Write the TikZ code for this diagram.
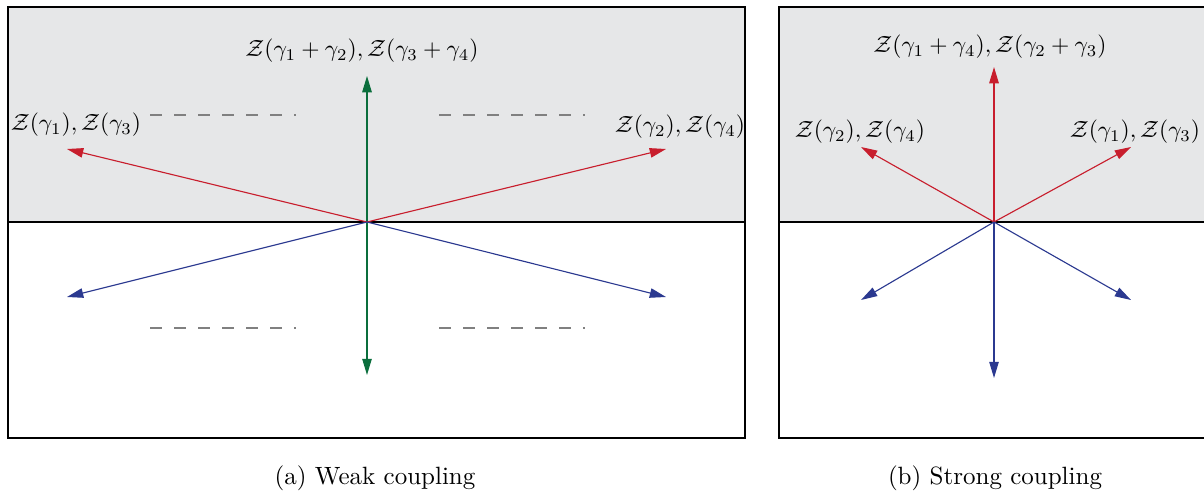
\documentclass[tikz,border=0pt]{standalone}
\usetikzlibrary{arrows.meta, positioning}
\usepackage{amsmath, amssymb}
\usepackage{xcolor}

\definecolor{bgshade}{RGB}{230,231,232}
\definecolor{redvec}{RGB}{200,30,45}
\definecolor{bluevec}{RGB}{43,57,144}
\definecolor{greenvec}{RGB}{10,110,60}

\begin{document}
\begin{tikzpicture}[
  x=0.4pt, y=-0.4pt,
  frame/.style={draw=black, line width=0.8pt},
  halfplane/.style={draw=black, line width=0.5pt},
  vec/.style={-{Triangle[length=6.5pt, width=3.8pt]}, line width=0.45pt},
  guide/.style={draw=black!50, line width=0.8pt, dash pattern=on 4.8pt off 4.8pt},
  lbl/.style={inner sep=0pt, scale=0.94},
  capt/.style={inner sep=0pt}
]
\useasboundingbox (0,0) rectangle (1204,493);
\clip (0,0) rectangle (1204,493);

% (a) weak coupling
\fill[bgshade] (8,7) rectangle (745,222);
\draw[halfplane] (8,222) -- (745,222);
\draw[frame] (8,7) rectangle (745,438);

\coordinate (oa) at (367,222);
\coordinate (aup) at (367,76);
\coordinate (adown) at (367,375);
\coordinate (aul) at (67,149);
\coordinate (aur) at (666,149);
\coordinate (adl) at (67,297);
\coordinate (adr) at (666,297);

\draw[guide] (150,115) -- (296,115);
\draw[guide] (439,115) -- (585,115);
\draw[guide] (150,328) -- (296,328);
\draw[guide] (439,328) -- (585,328);

\draw[vec, greenvec] (oa) -- (aup);
\draw[vec, greenvec] (oa) -- (adown);
\draw[vec, redvec] (oa) -- (aul);
\draw[vec, redvec] (oa) -- (aur);
\draw[vec, bluevec] (oa) -- (adl);
\draw[vec, bluevec] (oa) -- (adr);

\node (lsum) [lbl] at (362,51) {$\mathcal{Z}(\gamma_1+\gamma_2),\mathcal{Z}(\gamma_3+\gamma_4)$};
\node (lleft) [lbl] at (76,125) {$\mathcal{Z}(\gamma_1),\mathcal{Z}(\gamma_3)$};
\node (lright) [lbl] at (680,127) {$\mathcal{Z}(\gamma_2),\mathcal{Z}(\gamma_4)$};

\node (capa) [capt] at (375,478) {(a) Weak coupling};

% (b) strong coupling
\fill[bgshade] (779,7) rectangle (1215,222);
\draw[halfplane] (779,222) -- (1215,222);
\draw[frame] (779,7) rectangle (1215,438);

\coordinate (ob) at (994,222);
\coordinate (bup) at (994,67);
\coordinate (bdown) at (994,378);
\coordinate (bul) at (861,147);
\coordinate (bur) at (1131,147);
\coordinate (bdl) at (861,300);
\coordinate (bdr) at (1131,300);

\draw[vec, redvec] (ob) -- (bup);
\draw[vec, redvec] (ob) -- (bul);
\draw[vec, redvec] (ob) -- (bur);
\draw[vec, bluevec] (ob) -- (bdown);
\draw[vec, bluevec] (ob) -- (bdl);
\draw[vec, bluevec] (ob) -- (bdr);

\node (ssum) [lbl] at (990,47) {$\mathcal{Z}(\gamma_1+\gamma_4),\mathcal{Z}(\gamma_2+\gamma_3)$};
\node (sleft) [lbl] at (860,132) {$\mathcal{Z}(\gamma_2),\mathcal{Z}(\gamma_4)$};
\node (sright) [lbl] at (1135,132) {$\mathcal{Z}(\gamma_1),\mathcal{Z}(\gamma_3)$};

\node (capb) [capt] at (995,478) {(b) Strong coupling};

\end{tikzpicture}
\end{document}
